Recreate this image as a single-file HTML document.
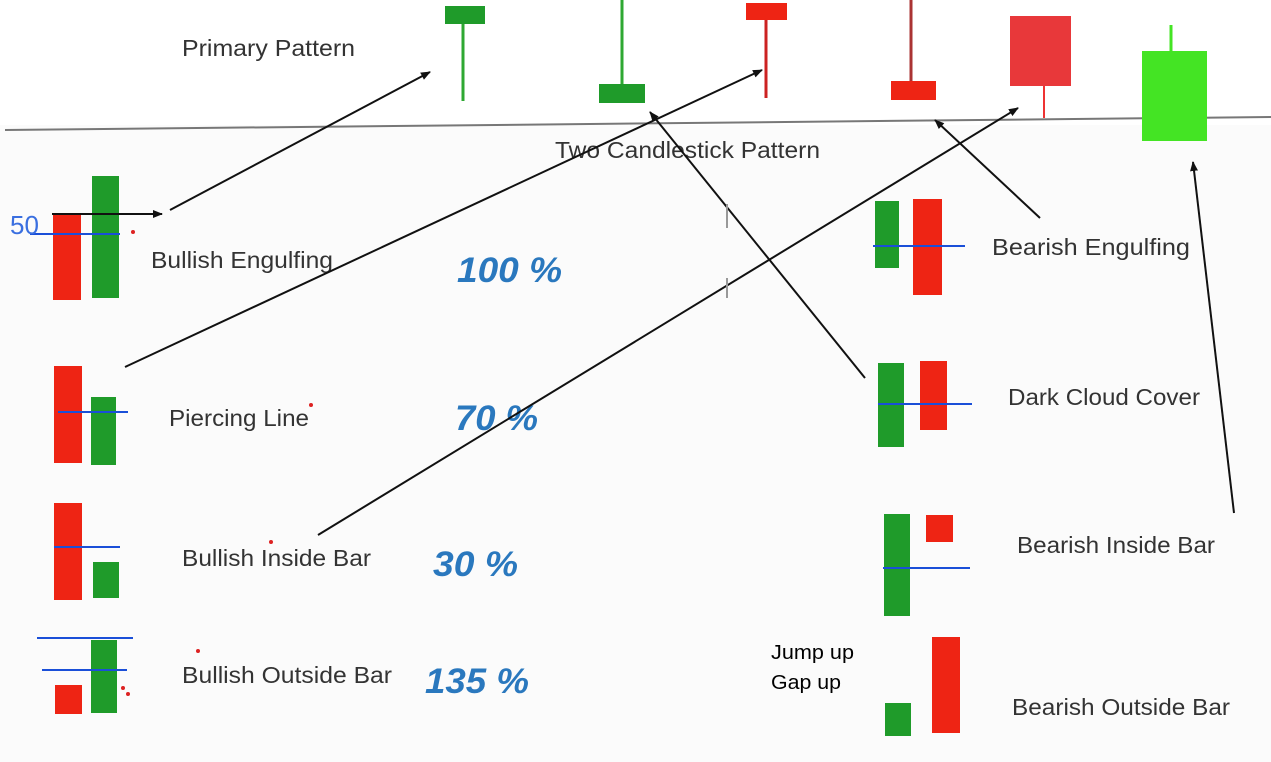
<!DOCTYPE html>
<html><head><meta charset="utf-8"><style>
html,body{margin:0;padding:0;background:#fff;}
svg{display:block;font-family:"Liberation Sans",sans-serif;}
.lbl{font-size:23px;fill:#333;}
.pct{font-size:35px;font-weight:bold;font-style:italic;fill:#2a78be;}
</style></head><body>
<svg width="1271" height="762" viewBox="0 0 1271 762">
<defs><marker id="ah" markerWidth="10" markerHeight="8" refX="9" refY="4" orient="auto" markerUnits="userSpaceOnUse"><path d="M0,0 L10,4 L0,8 z" fill="#111"/></marker></defs>
<rect width="1271" height="762" fill="#fff"/>
<rect x="0" y="125" width="1271" height="637" fill="#fbfbfb"/>
<line x1="5" y1="130" x2="1271" y2="117" stroke="#777" stroke-width="2"/>
<text x="182" y="56" class="lbl" textLength="173" lengthAdjust="spacingAndGlyphs">Primary Pattern</text>
<text x="555" y="158" class="lbl" textLength="265" lengthAdjust="spacingAndGlyphs">Two Candlestick Pattern</text>
<g>
<line x1="463" y1="24" x2="463" y2="101" stroke="#2ea832" stroke-width="3"/><rect x="445" y="6" width="40" height="18" fill="#1f9b2a"/>
<line x1="622" y1="0" x2="622" y2="85" stroke="#2ea832" stroke-width="3"/><rect x="599" y="84" width="46" height="19" fill="#1f9b2a"/>
<line x1="766" y1="20" x2="766" y2="98" stroke="#c22" stroke-width="3"/><rect x="746" y="3" width="41" height="17" fill="#ee2414"/>
<line x1="911" y1="0" x2="911" y2="82" stroke="#a33" stroke-width="3"/><rect x="891" y="81" width="45" height="19" fill="#ee2414"/>
<line x1="1044" y1="86" x2="1044" y2="118" stroke="#e33" stroke-width="2"/><rect x="1010" y="16" width="61" height="70" fill="#e8383a"/>
<line x1="1171" y1="25" x2="1171" y2="51" stroke="#44e424" stroke-width="3"/><rect x="1142" y="51" width="65" height="90" fill="#44e424"/>
</g>
<g>
<rect x="53" y="213" width="28" height="87" fill="#ee2414"/><rect x="92" y="176" width="27" height="122" fill="#1f9b2a"/>
<line x1="30" y1="234" x2="120" y2="234" stroke="#1a4fd8" stroke-width="2"/>
<text x="10" y="234" font-size="26" fill="#3a6fe0" font-weight="normal">50</text>
<line x1="52" y1="214" x2="162" y2="214" stroke="#111" stroke-width="2" marker-end="url(#ah)"/>
<text x="151" y="268" class="lbl" textLength="182" lengthAdjust="spacingAndGlyphs">Bullish Engulfing</text><text x="457" y="282" class="pct" textLength="105" lengthAdjust="spacingAndGlyphs">100 %</text></g>
<g>
<rect x="54" y="366" width="28" height="97" fill="#ee2414"/><rect x="91" y="397" width="25" height="68" fill="#1f9b2a"/>
<line x1="58" y1="412" x2="128" y2="412" stroke="#1a4fd8" stroke-width="2"/>
<text x="169" y="426" class="lbl" textLength="140" lengthAdjust="spacingAndGlyphs">Piercing Line</text><text x="455" y="430" class="pct" textLength="83" lengthAdjust="spacingAndGlyphs">70 %</text></g>
<g>
<rect x="54" y="503" width="28" height="97" fill="#ee2414"/><rect x="93" y="562" width="26" height="36" fill="#1f9b2a"/>
<line x1="54" y1="547" x2="120" y2="547" stroke="#1a4fd8" stroke-width="2"/>
<text x="182" y="566" class="lbl" textLength="189" lengthAdjust="spacingAndGlyphs">Bullish Inside Bar</text><text x="433" y="576" class="pct" textLength="85" lengthAdjust="spacingAndGlyphs">30 %</text></g>
<g>
<rect x="55" y="685" width="27" height="29" fill="#ee2414"/><rect x="91" y="640" width="26" height="73" fill="#1f9b2a"/>
<line x1="37" y1="638" x2="133" y2="638" stroke="#1a4fd8" stroke-width="2"/><line x1="42" y1="670" x2="127" y2="670" stroke="#1a4fd8" stroke-width="2"/>
<text x="182" y="683" class="lbl" textLength="210" lengthAdjust="spacingAndGlyphs">Bullish Outside Bar</text><text x="425" y="693" class="pct" textLength="104" lengthAdjust="spacingAndGlyphs">135 %</text></g>
<g>
<rect x="875" y="201" width="24" height="67" fill="#1f9b2a"/><rect x="913" y="199" width="29" height="96" fill="#ee2414"/>
<line x1="873" y1="246" x2="965" y2="246" stroke="#1a4fd8" stroke-width="2"/>
<text x="992" y="255" class="lbl" textLength="198" lengthAdjust="spacingAndGlyphs">Bearish  Engulfing</text></g>
<g>
<rect x="878" y="363" width="26" height="84" fill="#1f9b2a"/><rect x="920" y="361" width="27" height="69" fill="#ee2414"/>
<line x1="878" y1="404" x2="972" y2="404" stroke="#1a4fd8" stroke-width="2"/>
<text x="1008" y="405" class="lbl" textLength="192" lengthAdjust="spacingAndGlyphs">Dark Cloud Cover</text></g>
<g>
<rect x="884" y="514" width="26" height="102" fill="#1f9b2a"/><rect x="926" y="515" width="27" height="27" fill="#ee2414"/>
<line x1="883" y1="568" x2="970" y2="568" stroke="#1a4fd8" stroke-width="2"/>
<text x="1017" y="553" class="lbl" textLength="198" lengthAdjust="spacingAndGlyphs">Bearish Inside Bar</text></g>
<g>
<rect x="885" y="703" width="26" height="33" fill="#1f9b2a"/><rect x="932" y="637" width="28" height="96" fill="#ee2414"/>
<text x="1012" y="715" class="lbl" textLength="218" lengthAdjust="spacingAndGlyphs">Bearish Outside Bar</text></g>
<text x="771" y="659" font-size="20" fill="#000" textLength="83" lengthAdjust="spacingAndGlyphs">Jump up</text>
<text x="771" y="689" font-size="20" fill="#000" textLength="70" lengthAdjust="spacingAndGlyphs">Gap up</text>
<g stroke="#111" stroke-width="2" fill="none">
<line x1="170" y1="210" x2="430" y2="72" marker-end="url(#ah)"/>
<line x1="125" y1="367" x2="762" y2="70" marker-end="url(#ah)"/>
<line x1="318" y1="535" x2="1018" y2="108" marker-end="url(#ah)"/>
<line x1="865" y1="378" x2="650" y2="112" marker-end="url(#ah)"/>
<line x1="1040" y1="218" x2="935" y2="120" marker-end="url(#ah)"/>
<line x1="1234" y1="513" x2="1193" y2="162" marker-end="url(#ah)"/>
</g>
<g fill="#d22">
<circle cx="133" cy="232" r="2"/><circle cx="311" cy="405" r="2"/><circle cx="271" cy="542" r="2"/><circle cx="198" cy="651" r="2"/><circle cx="123" cy="688" r="2"/><circle cx="128" cy="694" r="2"/>
</g>
<line x1="727" y1="204" x2="727" y2="228" stroke="#999" stroke-width="2"/>
<line x1="727" y1="278" x2="727" y2="298" stroke="#999" stroke-width="2"/>
</svg>
</body></html>
